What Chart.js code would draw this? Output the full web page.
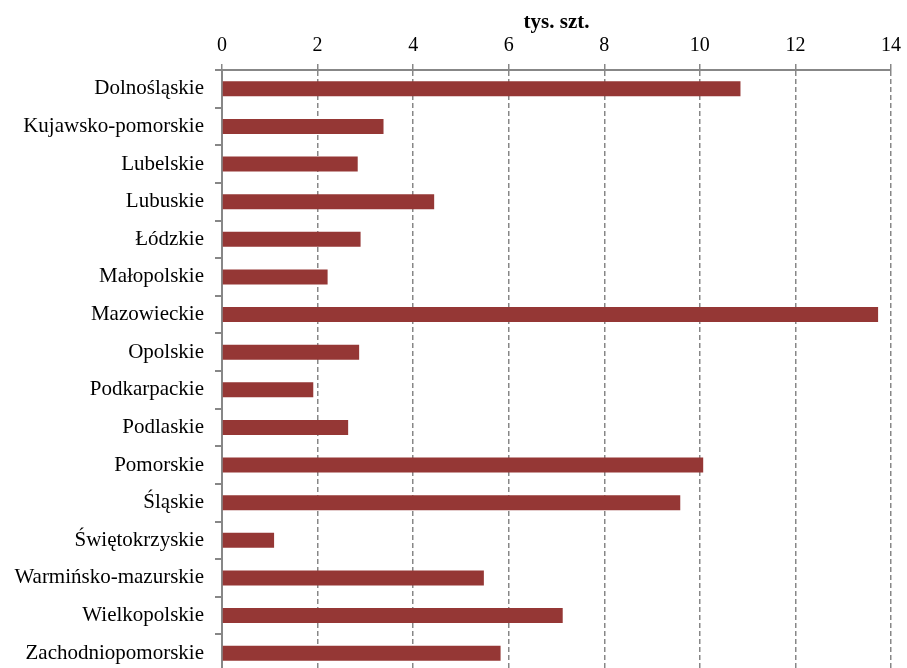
<!DOCTYPE html>
<html>
<head>
<meta charset="utf-8">
<script src="https://cdn.jsdelivr.net/npm/chart.js@4"></script>
<style>
html,body{margin:0;padding:0;background:#fff;overflow:hidden;}
#wrap{width:907px;height:668px;overflow:hidden;position:relative;}
#box{width:907px;height:672px;position:absolute;left:0;top:0;}
</style>
</head>
<body>
<div id="wrap"><div id="box"><canvas id="c"></canvas></div></div>
<script>
const categories = ["Dolnośląskie","Kujawsko-pomorskie","Lubelskie","Lubuskie","Łódzkie","Małopolskie","Mazowieckie","Opolskie","Podkarpackie","Podlaskie","Pomorskie","Śląskie","Świętokrzyskie","Warmińsko-mazurskie","Wielkopolskie","Zachodniopomorskie"];
const values = [10.85,3.38,2.84,4.44,2.90,2.21,13.73,2.87,1.91,2.64,10.07,9.59,1.09,5.48,7.13,5.83];
const axisTitle = "tys. szt.";
const xMin = 0, xMax = 14, xStep = 2;

const serif = "'Liberation Serif','Times New Roman',serif";
const gray = '#878787';

new Chart(document.getElementById('c'), {
  type: 'bar',
  data: {
    labels: categories,
    datasets: [{
      data: values,
      backgroundColor: '#953735',
      borderWidth: 0,
      barPercentage: 0.4,
      categoryPercentage: 1.0
    }]
  },
  options: {
    indexAxis: 'y',
    responsive: true,
    maintainAspectRatio: false,
    animation: false,
    layout: { padding: { left: 0, right: 13, top: 0, bottom: 0 } },
    plugins: { legend: { display: false }, tooltip: { enabled: false } },
    scales: {
      x: {
        position: 'top',
        min: xMin, max: xMax,
        ticks: { stepSize: xStep, color: '#000', font: { family: serif, size: 20 }, padding: 6 },
        title: { display: true, text: axisTitle, color: '#000', font: { family: serif, size: 21, weight: 'bold' }, padding: { top: 10, bottom: 0 } },
        grid: { color: gray, lineWidth: 1.5, tickBorderDash: [], tickBorderDashOffset: 0, tickLength: 6, drawTicks: true },
        border: { display: true, color: gray, width: 2, dash: [5, 3] },
        afterFit: (s) => { s.height = 70; }
      },
      y: {
        ticks: { color: '#000', font: { family: serif, size: 21 }, padding: 11, autoSkip: false },
        grid: { drawOnChartArea: false, drawTicks: true, tickLength: 7, color: gray, lineWidth: 2, offset: true, tickBorderDash: [] },
        border: { display: true, color: gray, width: 2 },
        afterFit: (s) => { s.width = 222; s.paddingTop = 0; s.paddingBottom = 0; }
      }
    }
  }
});
</script>
</body>
</html>
